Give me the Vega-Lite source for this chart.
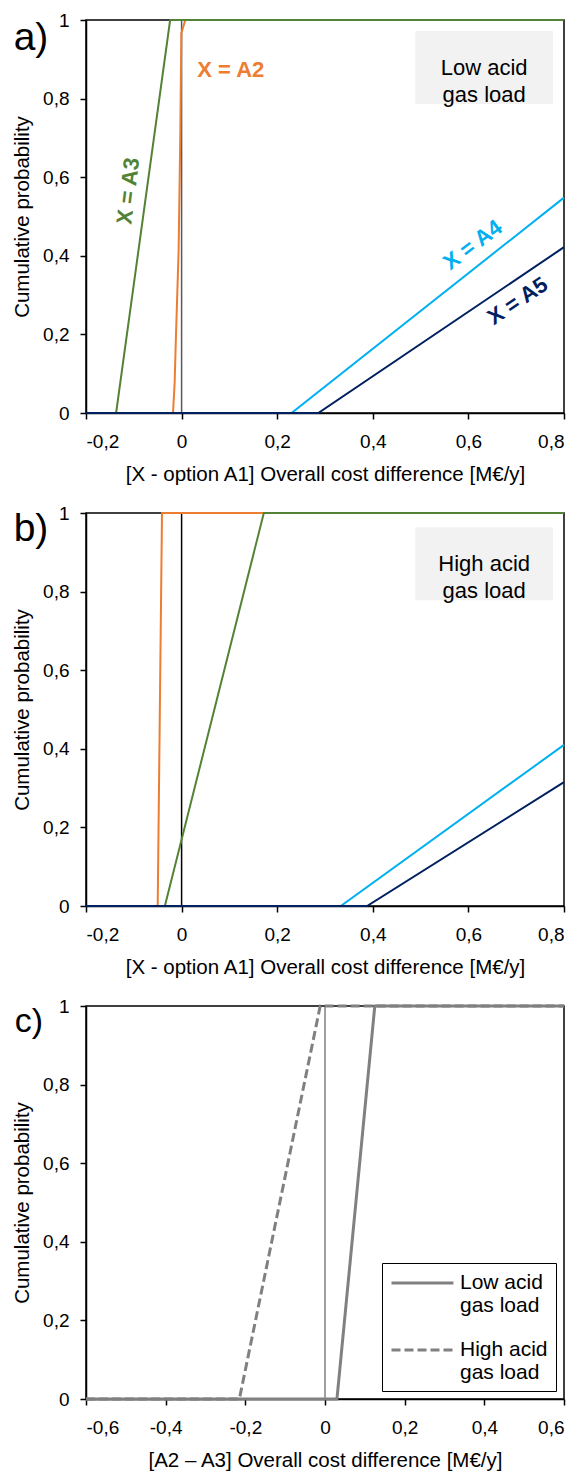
{
  "$schema": "https://vega.github.io/schema/vega-lite/v6.json",
  "background": "white",
  "padding": {"top": 10, "left": 11, "right": 5, "bottom": 5},
  "spacing": 17,
  "resolve": {"scale": {"strokeDash": "independent"}, "legend": {"strokeDash": "independent"}},
  "config": {
    "font": "Liberation Sans",
    "view": {"stroke": "#000", "strokeWidth": 1.5},
    "axis": {
      "grid": false,
      "domainColor": "#000",
      "domainWidth": 1.5,
      "tickColor": "#000",
      "tickWidth": 1.5,
      "tickSize": 6,
      "labelFont": "Liberation Sans",
      "labelFontSize": 19,
      "labelColor": "#000",
      "titleFont": "Liberation Sans",
      "titleFontSize": 20.5,
      "titleFontWeight": "normal",
      "titleColor": "#000"
    },
    "axisX": {"labelPadding": 13, "titlePadding": 13},
    "axisY": {"labelPadding": 11, "titlePadding": 10}
  },
  "datasets": {
    "a": [
      {"s": "A2", "x": -0.2, "p": 0},
      {"s": "A2", "x": -0.018, "p": 0},
      {"s": "A2", "x": -0.0146, "p": 0.075},
      {"s": "A2", "x": -0.0117, "p": 0.2},
      {"s": "A2", "x": -0.0062, "p": 0.414},
      {"s": "A2", "x": -0.0027, "p": 0.71},
      {"s": "A2", "x": -0.0006, "p": 0.966},
      {"s": "A2", "x": 0.0077, "p": 1},
      {"s": "A2", "x": 0.8, "p": 1},
      {"s": "A3", "x": -0.2, "p": 0},
      {"s": "A3", "x": -0.137, "p": 0},
      {"s": "A3", "x": -0.024, "p": 1},
      {"s": "A3", "x": 0.8, "p": 1},
      {"s": "A4", "x": -0.2, "p": 0},
      {"s": "A4", "x": 0.23, "p": 0},
      {"s": "A4", "x": 0.8, "p": 0.548},
      {"s": "A5", "x": -0.2, "p": 0},
      {"s": "A5", "x": 0.286, "p": 0},
      {"s": "A5", "x": 0.8, "p": 0.422}
    ],
    "b": [
      {"s": "A2", "x": -0.2, "p": 0},
      {"s": "A2", "x": -0.05, "p": 0},
      {"s": "A2", "x": -0.041, "p": 1},
      {"s": "A2", "x": 0.8, "p": 1},
      {"s": "A3", "x": -0.2, "p": 0},
      {"s": "A3", "x": -0.035, "p": 0},
      {"s": "A3", "x": 0.172, "p": 1},
      {"s": "A3", "x": 0.8, "p": 1},
      {"s": "A4", "x": -0.2, "p": 0},
      {"s": "A4", "x": 0.333, "p": 0},
      {"s": "A4", "x": 0.8, "p": 0.41},
      {"s": "A5", "x": -0.2, "p": 0},
      {"s": "A5", "x": 0.388, "p": 0},
      {"s": "A5", "x": 0.8, "p": 0.315}
    ],
    "c": [
      {"s": "High acid gas load", "x": -0.6, "p": 0},
      {"s": "High acid gas load", "x": -0.215, "p": 0},
      {"s": "High acid gas load", "x": -0.012, "p": 1},
      {"s": "High acid gas load", "x": 0.6, "p": 1},
      {"s": "Low acid gas load", "x": -0.6, "p": 0},
      {"s": "Low acid gas load", "x": 0.03, "p": 0},
      {"s": "Low acid gas load", "x": 0.125, "p": 1},
      {"s": "Low acid gas load", "x": 0.6, "p": 1}
    ]
  },
  "vconcat": [
    {
      "width": 478,
      "height": 393,
      "layer": [
        {
          "data": {"values": [{}]},
          "mark": {"type": "rule", "color": "#595959", "strokeWidth": 1.5},
          "encoding": {"x": {"datum": 0}}
        },
        {
          "data": {"name": "a"},
          "mark": {"type": "line", "strokeWidth": 2},
          "encoding": {
            "x": {"field": "x", "type": "quantitative",
              "scale": {"domain": [-0.2, 0.8], "nice": false, "zero": false},
              "axis": {"values": [-0.2, 0, 0.2, 0.4, 0.6, 0.8],
                "labelExpr": "replace(replace(format(datum.value, '~g'), '.', ','), '−', '-')",
                "title": "[X - option A1] Overall cost difference [M€/y]"}},
            "y": {"field": "p", "type": "quantitative",
              "scale": {"domain": [0, 1], "nice": false},
              "axis": {"values": [0, 0.2, 0.4, 0.6, 0.8, 1],
                "labelExpr": "replace(format(datum.value, '~g'), '.', ',')",
                "title": "Cumulative probability"}},
            "color": {"field": "s", "type": "nominal",
              "scale": {"domain": ["A2", "A3", "A4", "A5"], "range": ["#ED7D31", "#548235", "#00B0F0", "#002060"]},
              "legend": null}
          }
        },
        {
          "data": {"values": [{}]},
          "mark": {"type": "rect", "color": "#F2F2F2"},
          "encoding": {"x": {"datum": 0.489}, "x2": {"datum": 0.777}, "y": {"datum": 0.972}, "y2": {"datum": 0.786}}
        },
        {
          "data": {"values": [{}]},
          "mark": {"type": "text", "text": ["Low acid", "gas load"], "fontSize": 22, "lineHeight": 27.6, "align": "center", "baseline": "middle", "color": "#000"},
          "encoding": {"x": {"datum": 0.633}, "y": {"datum": 0.879}}
        },
        {
          "data": {"values": [{}]},
          "mark": {"type": "text", "text": "X = A3", "fontSize": 22, "fontWeight": "bold", "angle": -83, "align": "center", "baseline": "middle", "color": "#548235"},
          "encoding": {"x": {"datum": -0.1115}, "y": {"datum": 0.565}}
        },
        {
          "data": {"values": [{}]},
          "mark": {"type": "text", "text": "X = A2", "fontSize": 22, "fontWeight": "bold", "align": "center", "baseline": "middle", "color": "#ED7D31"},
          "encoding": {"x": {"datum": 0.103}, "y": {"datum": 0.873}}
        },
        {
          "data": {"values": [{}]},
          "mark": {"type": "text", "text": "X = A4", "fontSize": 22, "fontWeight": "bold", "angle": -37, "align": "center", "baseline": "middle", "color": "#00B0F0"},
          "encoding": {"x": {"datum": 0.609}, "y": {"datum": 0.4275}}
        },
        {
          "data": {"values": [{}]},
          "mark": {"type": "text", "text": "X = A5", "fontSize": 22, "fontWeight": "bold", "angle": -34, "align": "center", "baseline": "middle", "color": "#002060"},
          "encoding": {"x": {"datum": 0.703}, "y": {"datum": 0.285}}
        },
        {
          "data": {"values": [{}]},
          "mark": {"type": "text", "text": "a)", "fontSize": 39, "align": "center", "baseline": "alphabetic", "dx": -55, "dy": 30, "color": "#000"},
          "encoding": {"x": {"datum": -0.2}, "y": {"datum": 1}}
        }
      ]
    },
    {
      "width": 478,
      "height": 393,
      "layer": [
        {
          "data": {"values": [{}]},
          "mark": {"type": "rule", "color": "#000", "strokeWidth": 1.5},
          "encoding": {"x": {"datum": 0}}
        },
        {
          "data": {"name": "b"},
          "mark": {"type": "line", "strokeWidth": 2},
          "encoding": {
            "x": {"field": "x", "type": "quantitative",
              "scale": {"domain": [-0.2, 0.8], "nice": false, "zero": false},
              "axis": {"values": [-0.2, 0, 0.2, 0.4, 0.6, 0.8],
                "labelExpr": "replace(replace(format(datum.value, '~g'), '.', ','), '−', '-')",
                "title": "[X - option A1] Overall cost difference [M€/y]"}},
            "y": {"field": "p", "type": "quantitative",
              "scale": {"domain": [0, 1], "nice": false},
              "axis": {"values": [0, 0.2, 0.4, 0.6, 0.8, 1],
                "labelExpr": "replace(format(datum.value, '~g'), '.', ',')",
                "title": "Cumulative probability"}},
            "color": {"field": "s", "type": "nominal",
              "scale": {"domain": ["A2", "A3", "A4", "A5"], "range": ["#ED7D31", "#548235", "#00B0F0", "#002060"]},
              "legend": null}
          }
        },
        {
          "data": {"values": [{}]},
          "mark": {"type": "rect", "color": "#F2F2F2"},
          "encoding": {"x": {"datum": 0.489}, "x2": {"datum": 0.777}, "y": {"datum": 0.964}, "y2": {"datum": 0.778}}
        },
        {
          "data": {"values": [{}]},
          "mark": {"type": "text", "text": ["High acid", "gas load"], "fontSize": 22, "lineHeight": 27.6, "align": "center", "baseline": "middle", "color": "#000"},
          "encoding": {"x": {"datum": 0.633}, "y": {"datum": 0.871}}
        },
        {
          "data": {"values": [{}]},
          "mark": {"type": "text", "text": "b)", "fontSize": 39, "align": "center", "baseline": "alphabetic", "dx": -55, "dy": 28, "color": "#000"},
          "encoding": {"x": {"datum": -0.2}, "y": {"datum": 1}}
        }
      ]
    },
    {
      "width": 478,
      "height": 393,
      "layer": [
        {
          "data": {"values": [{}]},
          "mark": {"type": "rule", "color": "#404040", "strokeWidth": 1},
          "encoding": {"x": {"datum": 0}}
        },
        {
          "data": {"name": "c"},
          "mark": {"type": "line", "strokeWidth": 3, "color": "#808080"},
          "encoding": {
            "x": {"field": "x", "type": "quantitative",
              "scale": {"domain": [-0.6, 0.6], "nice": false, "zero": false},
              "axis": {"values": [-0.6, -0.4, -0.2, 0, 0.2, 0.4, 0.6],
                "labelExpr": "replace(replace(format(datum.value, '~g'), '.', ','), '−', '-')",
                "title": "[A2 – A3] Overall cost difference [M€/y]"}},
            "y": {"field": "p", "type": "quantitative",
              "scale": {"domain": [0, 1], "nice": false},
              "axis": {"values": [0, 0.2, 0.4, 0.6, 0.8, 1],
                "labelExpr": "replace(format(datum.value, '~g'), '.', ',')",
                "title": "Cumulative probability"}},
            "strokeDash": {"field": "s", "type": "nominal",
              "scale": {"domain": ["Low acid gas load", "High acid gas load"], "range": [[1, 0], [9, 4]]},
              "legend": {
                "title": null,
                "orient": "bottom-right",
                "offset": 8,
                "strokeColor": "#000",
                "fillColor": "#fff",
                "padding": 8,
                "symbolType": "M-1,0H4.9",
                "symbolSize": 441,
                "symbolStrokeWidth": 3,
                "symbolStrokeColor": "#808080",
                "rowPadding": 22,
                "labelFontSize": 21,
                "labelColor": "#000",
                "labelOffset": 46,
                "labelLimit": 300,
                "labelExpr": "datum.label == 'Low acid gas load' ? ['Low acid', 'gas load'] : ['High acid', 'gas load']"
              }}
          }
        },
        {
          "data": {"values": [{}]},
          "mark": {"type": "text", "text": "c)", "fontSize": 34, "align": "center", "baseline": "alphabetic", "dx": -57, "dy": 26, "color": "#000"},
          "encoding": {"x": {"datum": -0.6}, "y": {"datum": 1}}
        }
      ]
    }
  ]
}
